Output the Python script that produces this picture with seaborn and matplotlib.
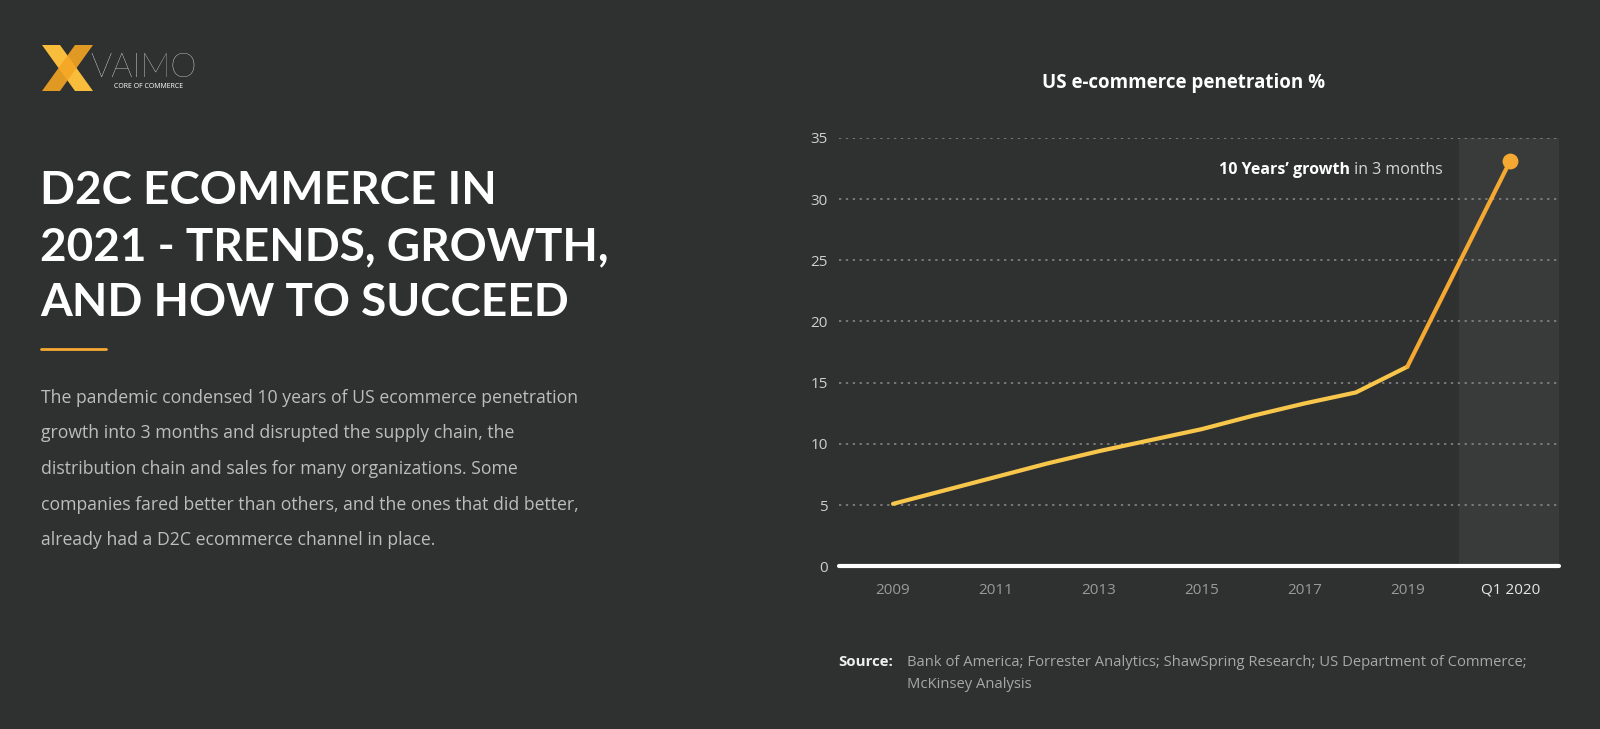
import matplotlib.pyplot as plt
import matplotlib.patches as mpatches
import pandas as pd
import seaborn as sns

# Chart data
years = [2009, 2010, 2011, 2012, 2013, 2014, 2015, 2016, 2017, 2018, 2019]
penetration = [5.1, 6.2, 7.3, 8.4, 9.4, 10.3, 11.2, 12.3, 13.3, 14.2, 16.3]
latest_label = 'Q1 2020'
latest_value = 33.1
y_ticks = [0, 5, 10, 15, 20, 25, 30, 35]

title_lines = ['D2C ECOMMERCE IN', '2021 - TRENDS, GROWTH,', 'AND HOW TO SUCCEED']
body_lines = [
    'The pandemic condensed 10 years of US ecommerce penetration',
    'growth into 3 months and disrupted the supply chain, the',
    'distribution chain and sales for many organizations. Some',
    'companies fared better than others, and the ones that did better,',
    'already had a D2C ecommerce channel in place.',
]
source_lines = [
    'Bank of America; Forrester Analytics; ShawSpring Research; US Department of Commerce;',
    'McKinsey Analysis',
]

BG = '#2f3030'
SHADE = '#393a3a'
YELLOW = '#f7c64a'
ORANGE = '#f6a932'
W, H = 1600, 729
SMALL = ['Open Sans', 'DejaVu Sans']


def px(x, y):
    return x / W, 1 - y / H


sns.set_theme(style='dark')
plt.rcParams['font.family'] = ['Lato', 'DejaVu Sans']

fig = plt.figure(figsize=(16, 7.29), dpi=100, facecolor=BG)
left, right, top, bottom = 839, 1559, 137.8, 566.3
ax = fig.add_axes([left / W, 1 - bottom / H, (right - left) / W, (bottom - top) / H])
ax.set_facecolor(BG)

latest_x = years[-1] + 2   # highlighted slot after a gap
df = pd.DataFrame({'x': years, 'value': penetration})
jump = pd.DataFrame({'x': [years[-1], latest_x], 'value': [penetration[-1], latest_value]})

ax.set_xlim(years[0] - 1.05, latest_x + 0.95)
ax.set_ylim(0, 35)
ax.axvspan(years[-1] + 1, latest_x + 0.95, color=SHADE, zorder=0, lw=0)

sns.lineplot(data=df, x='x', y='value', color=YELLOW, lw=3, ax=ax, zorder=3)
sns.lineplot(data=jump, x='x', y='value', color=ORANGE, lw=3, ax=ax, zorder=3)
ax.scatter([latest_x], [latest_value], s=130, color=ORANGE, zorder=4, lw=0)

ax.set_yticks(y_ticks)
ax.set_yticklabels([str(t) for t in y_ticks], family=SMALL)
ax.set_xticks(years[::2] + [latest_x])
ax.set_xticklabels([str(y) for y in years[::2]] + [latest_label], family=SMALL)
ax.set(xlabel=None, ylabel=None)
ax.grid(False)
for t in y_ticks[1:]:
    ax.axhline(t, color='#8c8c8c', lw=1.1, ls=(0, (1.5, 3)), zorder=1)
ax.axhline(0, color='white', lw=3, zorder=2, clip_on=False)
for side in ax.spines:
    ax.spines[side].set_visible(False)
ax.tick_params(length=0)
ax.tick_params(axis='y', pad=8, labelsize=11, labelcolor='#cfcfcf')
ax.tick_params(axis='x', pad=12, labelsize=11, labelcolor='#9a9a9a')
ax.get_xticklabels()[-1].set_color('#e6e6e6')

# Annotation: regular part right-aligned, bold part placed just before it
note_xy = (latest_x - 1.31, 32.4)
regular = ax.text(*note_xy, ' in 3 months', ha='right', va='center',
                  color='#d6d6d6', fontsize=11.5, family=SMALL)
renderer = fig.canvas.get_renderer()
shift = regular.get_window_extent(renderer).width * 72 / fig.dpi
ax.annotate("10 Years\u2019 growth", xy=note_xy, xytext=(-shift, 0),
            textcoords='offset points', ha='right', va='center',
            color='white', fontsize=11.5, fontweight='bold', family=SMALL)

fig.text(*px(1184, 83), 'US e-commerce penetration %', ha='center', va='center',
         color='white', fontsize=13.5, fontweight='bold', family=SMALL)

# Source
fig.text(*px(838, 662), 'Source:', ha='left', va='center', color='#eeeeee',
         fontsize=10.8, fontweight='bold', family=SMALL)
for i, line in enumerate(source_lines):
    fig.text(*px(907, 662 + 23 * i), line, ha='left', va='center',
             color='#a8a8a8', fontsize=10.6, family=SMALL)

# Left panel: logo
fig.patches.append(mpatches.Polygon(
    [px(42, 45), px(60, 45), px(93, 91), px(75, 91)], closed=True,
    transform=fig.transFigure, color='#f9bd3c', lw=0))
fig.patches.append(mpatches.Polygon(
    [px(75, 45), px(93, 45), px(60, 91), px(42, 91)], closed=True,
    transform=fig.transFigure, color='#f5a623', alpha=0.9, lw=0))
fig.text(*px(90, 68), 'VAIMO', ha='left', va='center', color='white',
         fontsize=24, fontweight='light')
fig.text(*px(114, 86), 'CORE OF COMMERCE', ha='left', va='center',
         color='white', fontsize=5, family=SMALL)

for i, line in enumerate(title_lines):
    fig.text(*px(40, 191 + 56 * i), line, ha='left', va='center', color='white',
             fontsize=33, fontweight='bold')

fig.lines.append(plt.Line2D([41 / W, 106 / W], [1 - 349 / H] * 2,
                            transform=fig.transFigure, color=ORANGE, lw=2))

for i, line in enumerate(body_lines):
    fig.text(*px(41, 398 + 35.5 * i), line, ha='left', va='center',
             color='#bdbdbd', fontsize=12.7, family=SMALL)

fig.savefig('out.png', dpi=100, facecolor=BG)
